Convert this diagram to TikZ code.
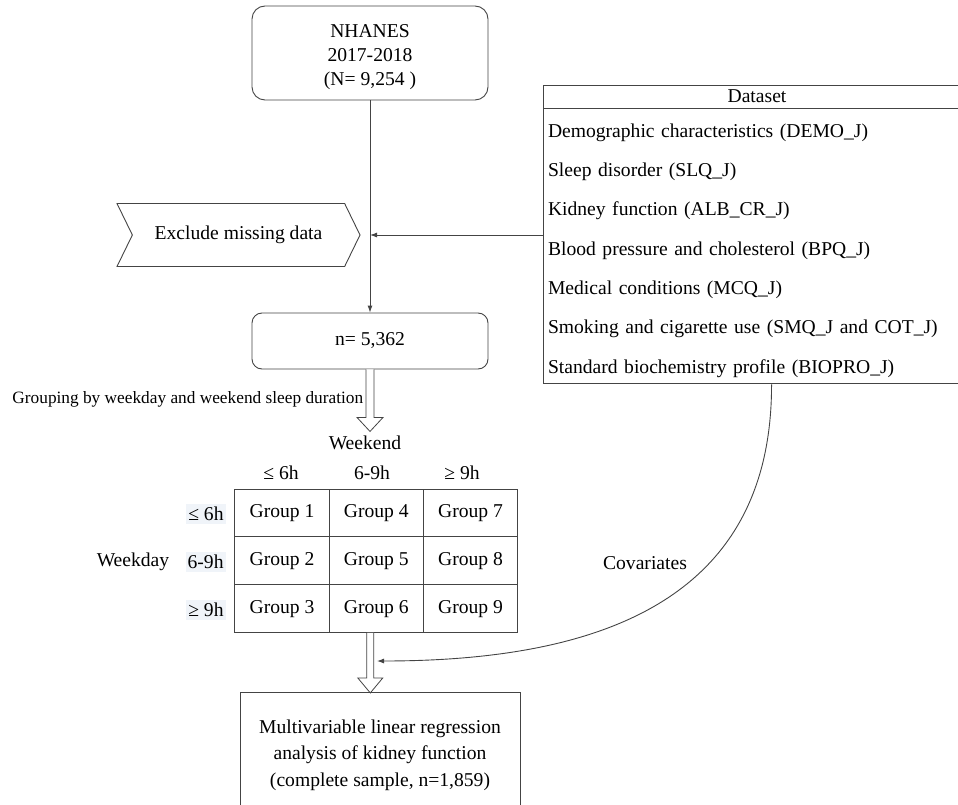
\documentclass[tikz,border=0pt]{standalone}
\usepackage{fontspec}
\setmainfont{Liberation Serif}
\usetikzlibrary{positioning,shapes.symbols,arrows.meta,calc}
\definecolor{linegray}{HTML}{444444}
\definecolor{labelbg}{HTML}{F0F4F9}

\begin{document}
\begin{tikzpicture}[x=1pt, y=-1pt, line width=0.9pt,
  every node/.style={font=\fontsize{19.6}{24}\selectfont},
  >={Latex[length=7pt,width=5pt]},
  box/.style={draw=linegray, align=center},
  cell/.style={draw=linegray, minimum width=94.3, minimum height=47.8, inner sep=0pt},
  rowlab/.style={anchor=east, fill=labelbg, inner xsep=2pt, inner ysep=3pt},
  hollow/.style={draw=linegray, fill=white, line width=0.8pt}]
\useasboundingbox (0,0) rectangle (958,805);
\clip (0,0) rectangle (958,805);

% flow on the left
\node[box,rounded corners=13pt,minimum width=236,minimum height=94] (nhanes) at (370,53) {\rule{0pt}{22pt}NHANES\\2017-2018\\(N= 9,254 )};
\node[box,rounded corners=10pt,minimum width=236,minimum height=56] (nbox) at (370,341) {n= 5,362};
\node[draw=linegray,signal,signal to=east,signal from=west,signal pointer angle=128,minimum width=243,minimum height=63] (excl) at (238.5,235) {Exclude missing data};

% dataset table
\node[draw=linegray,minimum width=428,minimum height=23,inner sep=1pt] (dhead) at (757,96.5) {Dataset};
\node[draw=linegray,below=0pt of dhead,minimum width=428,minimum height=275,text width=418,inner xsep=5pt,align=left,font=\fontsize{19.6}{39.3}\selectfont] (dbody) {\rule{0pt}{22pt}Demographic characteristics (DEMO\_J)\\Sleep disorder (SLQ\_J)\\Kidney function (ALB\_CR\_J)\\Blood pressure and cholesterol (BPQ\_J)\\Medical conditions (MCQ\_J)\\Smoking and cigarette use (SMQ\_J and COT\_J)\\Standard biochemistry profile (BIOPRO\_J)};

\draw[->,linegray] (nhanes) -- (nbox);
\coordinate (join) at (370,235);
\draw[->,linegray] (dbody.west |- join) -- (join);

% grouping
\draw[hollow] (nbox.south) ++(-4,0) -- ++(0,48) -- ++(-9,0) -- ++(13,14) -- ++(13,-14) -- ++(-9,0) -- ++(0,-48);
\node[anchor=west,inner sep=0pt,font=\fontsize{17.3}{20}\selectfont] (grp) at (12,399) {Grouping by weekday and weekend sleep duration};
\node (wkend) at (365,443) {Weekend};
\node (c1) at (281,473) {≤ 6h};
\node (c2) at (372,473) {6-9h};
\node (c3) at (462,473) {≥ 9h};
\foreach \c in {0,1,2}
  \foreach \r in {0,1,2} {
    \pgfmathtruncatemacro{\g}{3*\c+\r+1}
    \node[cell] (g\g) at (282+94.3*\c, 513+47.8*\r) {Group \g};
  }
\node[rowlab] (r1) at (226,514) {≤ 6h};
\node[rowlab] (r2) at (226,562) {6-9h};
\node[rowlab] (r3) at (226,610) {≥ 9h};
\node (wkday) at (133,562) {Weekday};

% analysis
\draw[hollow] (g6.south) ++(-9.5,0) -- ++(0,45) -- ++(-9,0) -- ++(12.5,15) -- ++(12.5,-15) -- ++(-9,0) -- ++(0,-45);
\node[box,minimum width=280,minimum height=126,font=\fontsize{19.6}{26.5}\selectfont] (res) at (380,755) {Multivariable linear regression\\analysis of kidney function\\(complete sample, n=1,859)};

\coordinate (covin) at (377,661);
\draw[->,linegray] ($(dbody.south west)+(229,0)$) .. controls (772,600) and (600,661) .. (covin);
\node (covlab) at (645,563) {Covariates};
\end{tikzpicture}
\end{document}
